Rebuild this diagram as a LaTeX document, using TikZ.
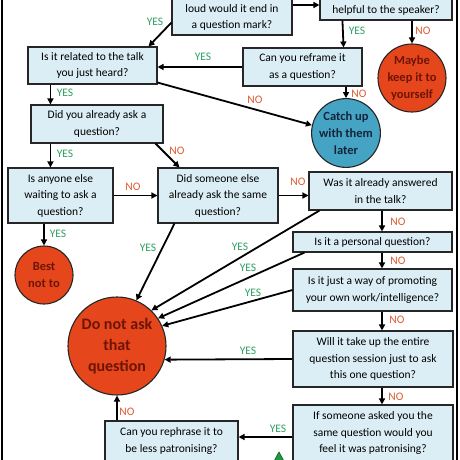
\documentclass[tikz,border=0pt]{standalone}
\usepackage{fontspec}
\setmainfont{Carlito}
\usetikzlibrary{arrows.meta,calc}
\definecolor{boxfill}{HTML}{DCEEF5}
\definecolor{yescol}{HTML}{2EA062}
\definecolor{nocol}{HTML}{DD5A30}
\definecolor{redfill}{HTML}{E5461C}
\definecolor{redtext}{HTML}{6E1406}
\definecolor{bluefill}{HTML}{45A4C4}
\definecolor{bluetext}{HTML}{14233A}
\definecolor{trigreen}{HTML}{1E9A3A}
\begin{document}
\begin{tikzpicture}[x=1pt,y=-1pt,
 qbox/.style={draw=black!85,line width=1.1pt,fill=boxfill,inner sep=0pt,align=center,font=\fontsize{11.5}{16.5}\selectfont},
 txt/.style={inner sep=0pt,align=center,font=\fontsize{11.5}{16.5}\selectfont},
 endc/.style={circle,draw=black!85,line width=1.1pt,inner sep=0pt,align=center,font=\bfseries\fontsize{12.5}{17}\selectfont},
 redend/.style={endc,fill=redfill,text=redtext},
 blueend/.style={endc,fill=bluefill,text=bluetext},
 arr/.style={-{Triangle[length=6pt,width=6pt]},line width=1.8pt},
 yes/.style={text=yescol,font=\fontsize{11.5}{12}\selectfont,inner sep=0pt},
 no/.style={text=nocol,font=\fontsize{11.5}{12}\selectfont,inner sep=0pt}]
\useasboundingbox (0,0) rectangle (460,460);
\fill[white] (0,0) rectangle (460,460);
% borders
\draw[line width=2pt] (2,0) -- (2,460);
\draw[line width=2pt] (457,0) -- (457,460);
% boxes
\node[qbox,minimum width=120,minimum height=70] (q1) at (232,0) {};
\node[txt] (q1t) at (232,17.5) {loud would it end in\\a question mark?};
\node[qbox,minimum width=132,minimum height=70] (q2) at (386,-15) {};
\node[txt] (q2t) at (386,10) {helpful to the speaker?};
\node[qbox,minimum width=129,minimum height=37] (related) at (92.5,65.5) {Is it related to the talk\\you just heard?};
\node[qbox,minimum width=119,minimum height=38] (reframe) at (302.5,67) {Can you reframe it\\as a question?};
\node[qbox,minimum width=132,minimum height=38] (already) at (97,124) {Did you already ask a\\question?};
\node[qbox,minimum width=105,minimum height=55] (anyone) at (60.5,195.5) {Is anyone else\\waiting to ask a\\question?};
\node[qbox,minimum width=120,minimum height=55] (someone) at (218,195.5) {Did someone else\\already ask the same\\question?};
\node[qbox,minimum width=143,minimum height=38] (answered) at (380.5,191) {Was it already answered\\in the talk?};
\node[qbox,minimum width=159,minimum height=20] (personal) at (372.5,242) {Is it a personal question?};
\node[qbox,minimum width=159,minimum height=42] (promoting) at (372.5,290) {Is it just a way of promoting\\your own work/intelligence?};
\node[qbox,minimum width=160,minimum height=56] (entire) at (373,359) {Will it take up the entire\\question session just to ask\\this one question?};
\node[qbox,minimum width=160,minimum height=56] (patron) at (373,433) {If someone asked you the\\same question would you\\feel it was patronising?};
\node[qbox,minimum width=133,minimum height=40] (rephrase) at (171.5,441) {Can you rephrase it to\\be less patronising?};
% end circles
\node[redend,minimum size=68] (maybe) at (412,78) {Maybe\\keep it to\\yourself};
\node[blueend,minimum size=66] (catch) at (346,133) {Catch up\\with them\\later};
\node[redend,minimum size=58] (best) at (44,275) {Best\\not to};
\node[redend,minimum size=98,font=\bfseries\fontsize{16}{21}\selectfont] (donot) at (117,346) {Do not ask\\that\\question};
% green triangle
\filldraw[fill=trigreen,draw=trigreen!60!black,line width=0.6pt] (279,452) -- (268,472) -- (290,472) -- cycle;
% connectors
\coordinate (vx) at (382,0);
\path ($(q1.east)+(0,5)$) coordinate (c1);
\draw[arr] (c1) -- (q2.west |- c1);
\draw[arr] ($(q1.south west)+(0,-13)$) -- ($(related.north east)+(-9,0)$);
\draw[arr] ($(q2.south west)+(23,0)$) -- ($(reframe.north east)+(-19,0)$);
\draw[arr] (q2.south -| maybe.north) -- (maybe.north);
\draw[arr] (reframe.west) -- (related.east |- reframe.west);
\draw[arr] ($(related.south east)+(0,-2)$) -- (catch.167);
\draw[arr] (reframe.south -| catch.north) -- (catch.north);
\path ($(related.south west)+(23,0)$) coordinate (c8);
\draw[arr] (c8) -- (already.north -| c8);
\path ($(already.south west)+(20,0)$) coordinate (c9);
\draw[arr] (c9) -- (anyone.north -| c9);
\draw[arr] ($(already.south east)+(-8,0)$) -- ($(someone.north west)+(22,0)$);
\draw[arr] (anyone.east) -- (someone.west);
\draw[arr] (anyone.south -| best.north) -- (best.north);
\draw[arr] ($(someone.south west)+(17,0)$) -- (donot.67);
\draw[arr] (someone.east) -- (answered.west |- someone.east);
\draw[arr] ($(answered.south west)+(11,0)$) -- (donot.46);
\draw[arr] ($(personal.south west)+(12,0)$) -- (donot.34);
\draw[arr] (promoting.west) -- (donot.24);
\draw[arr] (answered.south -| vx) -- (personal.north -| vx);
\draw[arr] (personal.south -| vx) -- (promoting.north -| vx);
\draw[arr] (promoting.south -| vx) -- (entire.north -| vx);
\draw[arr] (entire.south -| vx) -- (patron.north -| vx);
\draw[arr] (entire.west) -- (donot.-16);
\path ($(patron.west)+(0,4)$) coordinate (c23);
\draw[arr] (c23) -- (rephrase.east |- c23);
\draw[arr] (rephrase.north -| donot.south) -- (donot.south);
% labels
\node[yes] (y1) at (155,22) {YES};
\node[yes] (y2) at (357,31) {YES};
\node[no] (n1) at (423,31) {NO};
\node[yes] (y3) at (203,57) {YES};
\node[no] (n2) at (255,100) {NO};
\node[no] (n3) at (359,94) {NO};
\node[yes] (y4) at (65,93) {YES};
\node[yes] (y5) at (65,154) {YES};
\node[no] (n4) at (177,151) {NO};
\node[no] (n5) at (133,187) {NO};
\node[yes] (y6) at (58,234) {YES};
\node[yes] (y7) at (148,248) {YES};
\node[no] (n6) at (298,182) {NO};
\node[yes] (y8) at (240,247) {YES};
\node[yes] (y9) at (248,268) {YES};
\node[yes] (y10) at (253,293) {YES};
\node[no] (n7) at (398,222) {NO};
\node[no] (n8) at (398,261) {NO};
\node[no] (n9) at (397,320) {NO};
\node[yes] (y11) at (248,351) {YES};
\node[no] (n10) at (396,397) {NO};
\node[yes] (y12) at (278,429) {YES};
\node[no] (n11) at (127,412) {NO};
\end{tikzpicture}
\end{document}
